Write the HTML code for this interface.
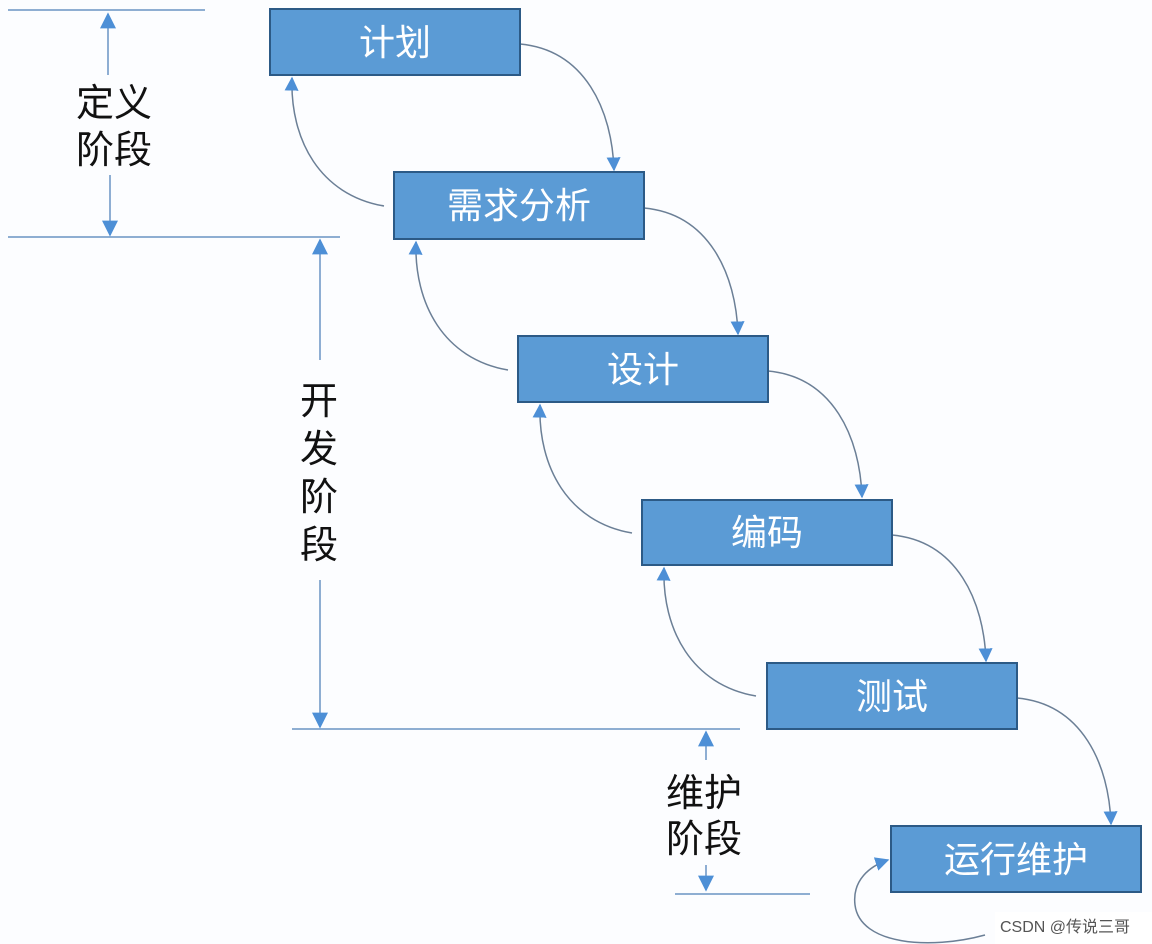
<!DOCTYPE html>
<html><head><meta charset="utf-8"><style>
html,body{margin:0;padding:0;background:#fcfdff;}
svg{display:block;}
.lbl{font-family:"Liberation Sans","Noto Sans CJK SC",sans-serif;font-size:38px;fill:#111;}
.bx{font-family:"Liberation Sans","Noto Sans CJK SC",sans-serif;font-size:36px;fill:#fff;}
</style></head><body>
<svg width="1152" height="944" viewBox="0 0 1152 944" xmlns="http://www.w3.org/2000/svg">
<defs>
<marker id="a" viewBox="0 0 10 10" refX="9" refY="5" markerWidth="14" markerHeight="14" markerUnits="userSpaceOnUse" orient="auto"><path d="M0,0L10,5L0,10z" fill="#4d8fd6"/></marker>
<marker id="b" viewBox="0 0 10 10" refX="9" refY="5" markerWidth="16" markerHeight="16" markerUnits="userSpaceOnUse" orient="auto"><path d="M0,0L10,5L0,10z" fill="#4d8fd6"/></marker>
</defs>
<!-- left annotations -->
<g stroke="#6a93c4" stroke-width="1.5" fill="none">
<line x1="8" y1="10" x2="205" y2="10"/>
<line x1="8" y1="237" x2="340" y2="237"/>
<line x1="292" y1="729" x2="740" y2="729"/>
<line x1="675" y1="894" x2="810" y2="894"/>
<line x1="108" y1="75" x2="108" y2="14" marker-end="url(#b)"/>
<line x1="110" y1="175" x2="110" y2="235" marker-end="url(#b)"/>
<line x1="320" y1="360" x2="320" y2="240" marker-end="url(#b)"/>
<line x1="320" y1="580" x2="320" y2="727" marker-end="url(#b)"/>
<line x1="706" y1="760" x2="706" y2="732" marker-end="url(#b)"/>
<line x1="706" y1="865" x2="706" y2="890" marker-end="url(#b)"/>
</g>
<text class="lbl" x="76" y="116">定义</text>
<text class="lbl" x="76" y="163">阶段</text>
<text class="lbl" x="300" y="414">开</text>
<text class="lbl" x="300" y="462">发</text>
<text class="lbl" x="300" y="510">阶</text>
<text class="lbl" x="300" y="558">段</text>
<text class="lbl" x="666" y="806">维护</text>
<text class="lbl" x="666" y="852">阶段</text>
<!-- connectors -->
<g stroke="#6b7f96" stroke-width="1.5" fill="none">
<path d="M520,44 C585,50 612,110 614,170" marker-end="url(#a)"/>
<path d="M644,208 C709,214 736,274 738,334" marker-end="url(#a)"/>
<path d="M768,371 C833,377 860,437 862,497" marker-end="url(#a)"/>
<path d="M892,535 C957,541 984,601 986,661" marker-end="url(#a)"/>
<path d="M1017,698 C1082,704 1109,764 1111,824" marker-end="url(#a)"/>
<path d="M384,206 C320,195 290,140 292,78" marker-end="url(#a)"/>
<path d="M508,370 C444,359 414,304 416,242" marker-end="url(#a)"/>
<path d="M632,533 C568,522 538,467 540,405" marker-end="url(#a)"/>
<path d="M756,696 C692,685 662,630 664,568" marker-end="url(#a)"/>
<path d="M985,935 C930,950 860,945 855,905 C852,880 870,866 888,860" marker-end="url(#a)"/>
</g>
<!-- boxes -->
<g fill="#5b9bd5" stroke="#2c5a86" stroke-width="2">
<rect x="270" y="9" width="250" height="66"/>
<rect x="394" y="172" width="250" height="67"/>
<rect x="518" y="336" width="250" height="66"/>
<rect x="642" y="500" width="250" height="65"/>
<rect x="767" y="663" width="250" height="66"/>
<rect x="891" y="826" width="250" height="66"/>
</g>
<g class="bx" text-anchor="middle">
<text x="395" y="55">计划</text>
<text x="519" y="218">需求分析</text>
<text x="643" y="382">设计</text>
<text x="767" y="545">编码</text>
<text x="892" y="709">测试</text>
<text x="1016" y="872">运行维护</text>
</g>
<rect x="995" y="912" width="157" height="32" fill="#ffffff"/>
<text x="1000" y="932" font-family="Liberation Sans,Noto Sans CJK SC,sans-serif" font-size="16" fill="#555">CSDN @传说三哥</text>
</svg>
</body></html>
